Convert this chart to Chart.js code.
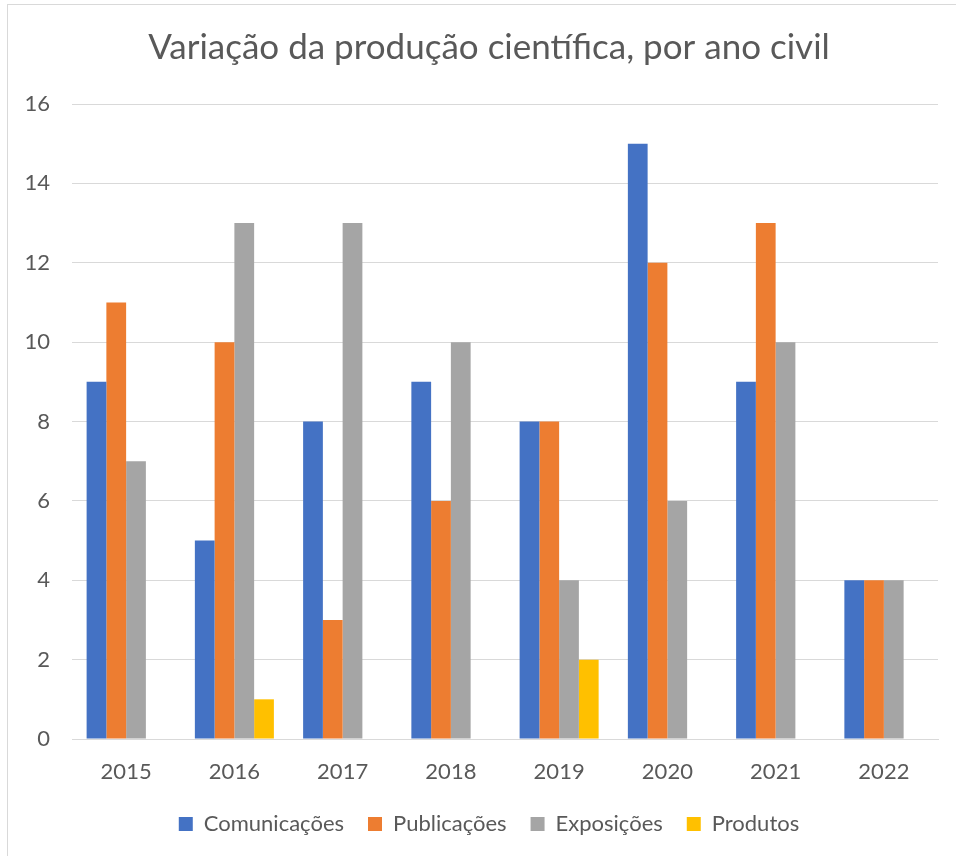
<!DOCTYPE html>
<html>
<head>
<meta charset="utf-8">
<script src="https://cdn.jsdelivr.net/npm/chart.js@4"></script>
<style>
  html, body { margin: 0; padding: 0; background: #fff; overflow: hidden; }
  #frame { position: absolute; left: 7px; top: 4px; width: 1200px; height: 1200px; border: 1px solid #d9d9d9; }
  #wrap { position: absolute; left: 0; top: 0; width: 956px; height: 856px; }
</style>
</head>
<body>
<div id="frame"></div>
<div id="wrap"><canvas id="chart"></canvas></div>
<script>
const years = ['2015', '2016', '2017', '2018', '2019', '2020', '2021', '2022'];
const comunicacoes = [9, 5, 8, 9, 8, 15, 9, 4];
const publicacoes = [11, 10, 3, 6, 8, 12, 13, 4];
const exposicoes = [7, 13, 13, 10, 4, 6, 10, 4];
const produtos = [0, 1, 0, 0, 2, 0, 0, 0];
const yTicks = [0, 2, 4, 6, 8, 10, 12, 14, 16];

const colors = {
  blue: '#4472C4',
  orange: '#ED7D31',
  gray: '#A5A5A5',
  yellow: '#FFC000',
};
const textColor = '#595959';
const fontFamily = 'Lato, "Open Sans", sans-serif';

function series(label, data, color) {
  return {
    label: label,
    data: data,
    backgroundColor: color,
    borderWidth: 0,
    categoryPercentage: 0.73,
    barPercentage: 1,
  };
}

const ctx = document.getElementById('chart').getContext('2d');

new Chart(ctx, {
  type: 'bar',
  data: {
    labels: years,
    datasets: [
      series('Comunicações', comunicacoes, colors.blue),
      series('Publicações', publicacoes, colors.orange),
      series('Exposições', exposicoes, colors.gray),
      series('Produtos', produtos, colors.yellow),
    ],
  },
  options: {
    responsive: true,
    maintainAspectRatio: false,
    animation: false,
    layout: {
      padding: { left: 22, right: 0, top: 0, bottom: 11 }
    },
    scales: {
      x: {
        grid: { display: false, drawTicks: false },
        border: { display: true, color: '#D9D9D9', width: 1 },
        ticks: {
          color: textColor,
          font: { family: fontFamily, size: 22 },
          padding: 20,
        },
        afterFit: function (scale) { scale.height = 50; }
      },
      y: {
        min: 0,
        max: 16,
        afterBuildTicks: function (scale) {
          scale.ticks = yTicks.map(v => ({ value: v }));
        },
        grid: { color: '#D9D9D9', lineWidth: 1, drawTicks: false },
        border: { display: false },
        ticks: {
          color: textColor,
          font: { family: fontFamily, size: 22 },
          padding: 22,
        },
        afterFit: function (scale) { scale.width = 50; }
      },
      // empty strip on the right so the title and legend sit where Excel put them
      yRight: {
        type: 'linear',
        position: 'right',
        grid: { display: false, drawTicks: false },
        border: { display: false },
        ticks: { display: false },
        afterFit: function (scale) { scale.width = 18; }
      }
    },
    plugins: {
      title: {
        display: true,
        text: 'Variação da produção científica, por ano civil',
        color: textColor,
        font: { family: fontFamily, size: 35, weight: 'normal' },
        padding: { top: 27, bottom: 35 },
      },
      legend: {
        display: true,
        position: 'bottom',
        labels: {
          color: textColor,
          font: { family: fontFamily, size: 22 },
          boxWidth: 14,
          boxHeight: 14,
          padding: 24,
        }
      },
      tooltip: { enabled: false }
    }
  }
});
</script>
</body>
</html>
